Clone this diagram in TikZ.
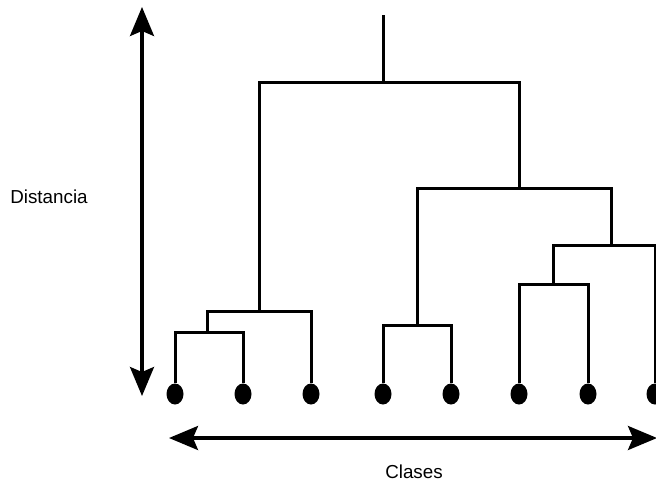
\documentclass[tikz,border=0pt]{standalone}
\usepackage{fontspec}
\setmainfont{Liberation Sans}
\usetikzlibrary{arrows.meta,shapes.geometric}
\tikzset{
  leaf/.style={ellipse,fill=black,draw=none,minimum width=17pt,minimum height=21pt,inner sep=0pt},
  branch/.style={line width=3pt,line join=miter},
  axis/.style={line width=3.2pt,{Stealth[length=29pt,width=24pt,inset=5pt]}-{Stealth[length=29pt,width=24pt,inset=5pt]}},
  label/.style={font=\fontsize{18.8pt}{22pt}\selectfont,anchor=base,inner sep=0pt}
}
\begin{document}
\begin{tikzpicture}[x=1pt,y=-1pt]
\useasboundingbox (0,0) rectangle (656,483);
\clip (0,0) rectangle (656,483);
% leaves
\node[leaf] (l1) at (175,394) {};
\node[leaf] (l2) at (243,394) {};
\node[leaf] (l3) at (311,394) {};
\node[leaf] (l4) at (383,394) {};
\node[leaf] (l5) at (451,394) {};
\node[leaf] (l6) at (519,394) {};
\node[leaf] (l7) at (588,394) {};
\node[leaf] (l8) at (655,394) {};
% junctions
\coordinate (b1) at (207,332);
\coordinate (b2) at (259,311);
\coordinate (c1) at (417,325);
\coordinate (d1) at (553,284);
\coordinate (d2) at (611,245);
\coordinate (e1) at (519,188);
\coordinate (top) at (383,82);
\coordinate (root) at (383,15);
% branches
\draw[branch] (l1) |- (b1) -| (l2);
\draw[branch] (b1) |- (b2) -| (l3);
\draw[branch] (l4) |- (c1) -| (l5);
\draw[branch] (l6) |- (d1) -| (l7);
\draw[branch] (d1) |- (d2) -| (l8);
\draw[branch] (c1) |- (e1) -| (d2);
\draw[branch] (b2) |- (top) -| (e1);
\draw[branch] (top) -- (root);
% axes
\coordinate (vt) at (142,7);
\coordinate (vb) at (142,396);
\coordinate (hl) at (169,438);
\coordinate (hr) at (657,438);
\draw[axis] (vt) -- (vb);
\draw[axis] (hl) -- (hr);
% labels
\node[label] (dist) at (49,203) {Distancia};
\node[label] (clases) at (414,478) {Clases};
\end{tikzpicture}
\end{document}
